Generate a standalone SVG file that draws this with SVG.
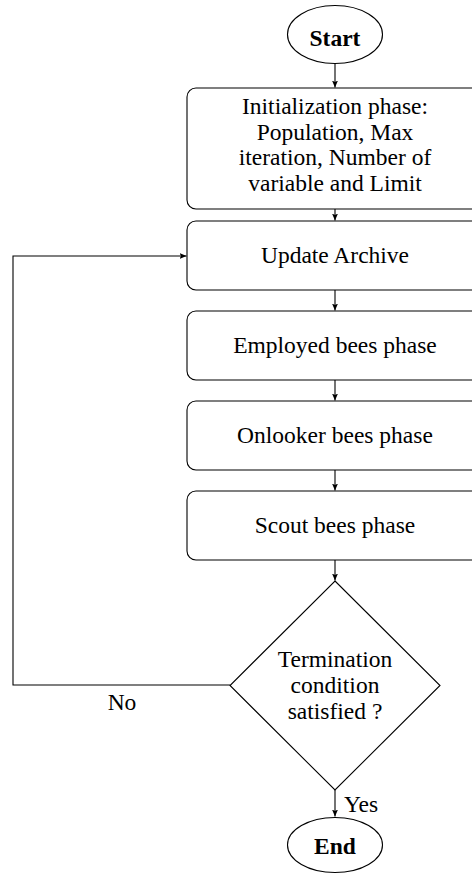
<svg xmlns="http://www.w3.org/2000/svg" width="472" height="874" viewBox="0 0 472 874">
<defs>
<marker id="arr" markerUnits="userSpaceOnUse" markerWidth="8" markerHeight="8" viewBox="0 0 8 8" refX="7" refY="4" orient="auto">
<path d="M0,1 L7,4 L0,7 L1.5,4 z" fill="#000"/>
</marker>
<style>
.n{fill:#fff;stroke:#000;stroke-width:1.1}
.t{font-family:"Liberation Serif","Times New Roman",serif;font-size:23.5px;fill:#000;text-anchor:middle}
.b{font-weight:bold}
.c{fill:none;stroke:#000;stroke-width:1.1}
</style>
</defs>
<rect width="472" height="874" fill="#fff"/>
<g id="connectors">
<line class="c" x1="335" y1="64" x2="335" y2="87.5" marker-end="url(#arr)"/>
<line class="c" x1="335" y1="209" x2="335" y2="220.5" marker-end="url(#arr)"/>
<line class="c" x1="335" y1="290" x2="335" y2="310.5" marker-end="url(#arr)"/>
<line class="c" x1="335" y1="380" x2="335" y2="400.5" marker-end="url(#arr)"/>
<line class="c" x1="335" y1="470" x2="335" y2="490.5" marker-end="url(#arr)"/>
<line class="c" x1="335" y1="560" x2="335" y2="580.5" marker-end="url(#arr)"/>
<line class="c" x1="335" y1="790" x2="335" y2="816.5" marker-end="url(#arr)"/>
<polyline class="c" points="230,685 13,685 13,256 186.5,256" marker-end="url(#arr)"/>
<text class="t" x="122" y="710">No</text>
<text class="t" x="344" y="812" style="text-anchor:start">Yes</text>
</g>
<g id="start">
<ellipse class="n" cx="335" cy="34.5" rx="47.5" ry="29"/>
<text class="t b" x="335" y="45.5">Start</text>
</g>
<g id="init">
<rect class="n" x="187" y="88" width="300" height="121" rx="9"/>
<text class="t" x="335" y="114">Initialization phase:</text>
<text class="t" x="335" y="140">Population, Max</text>
<text class="t" x="335" y="165">iteration, Number of</text>
<text class="t" x="335" y="190.5">variable and Limit</text>
</g>
<g id="update">
<rect class="n" x="187" y="221" width="300" height="69" rx="9"/>
<text class="t" x="335" y="263">Update Archive</text>
</g>
<g id="employed">
<rect class="n" x="187" y="311" width="300" height="69" rx="9"/>
<text class="t" x="335" y="353">Employed bees phase</text>
</g>
<g id="onlooker">
<rect class="n" x="187" y="401" width="300" height="69" rx="9"/>
<text class="t" x="335" y="443">Onlooker bees phase</text>
</g>
<g id="scout">
<rect class="n" x="187" y="491" width="300" height="69" rx="9"/>
<text class="t" x="335" y="533">Scout bees phase</text>
</g>
<g id="decision">
<polygon class="n" points="335,581 440,685.5 335,790 230,685.5"/>
<text class="t" x="335" y="667">Termination</text>
<text class="t" x="335" y="693">condition</text>
<text class="t" x="335" y="719">satisfied ?</text>
</g>
<g id="end">
<ellipse class="n" cx="335" cy="845" rx="47.5" ry="27.5"/>
<text class="t b" x="335" y="854">End</text>
</g>
</svg>
